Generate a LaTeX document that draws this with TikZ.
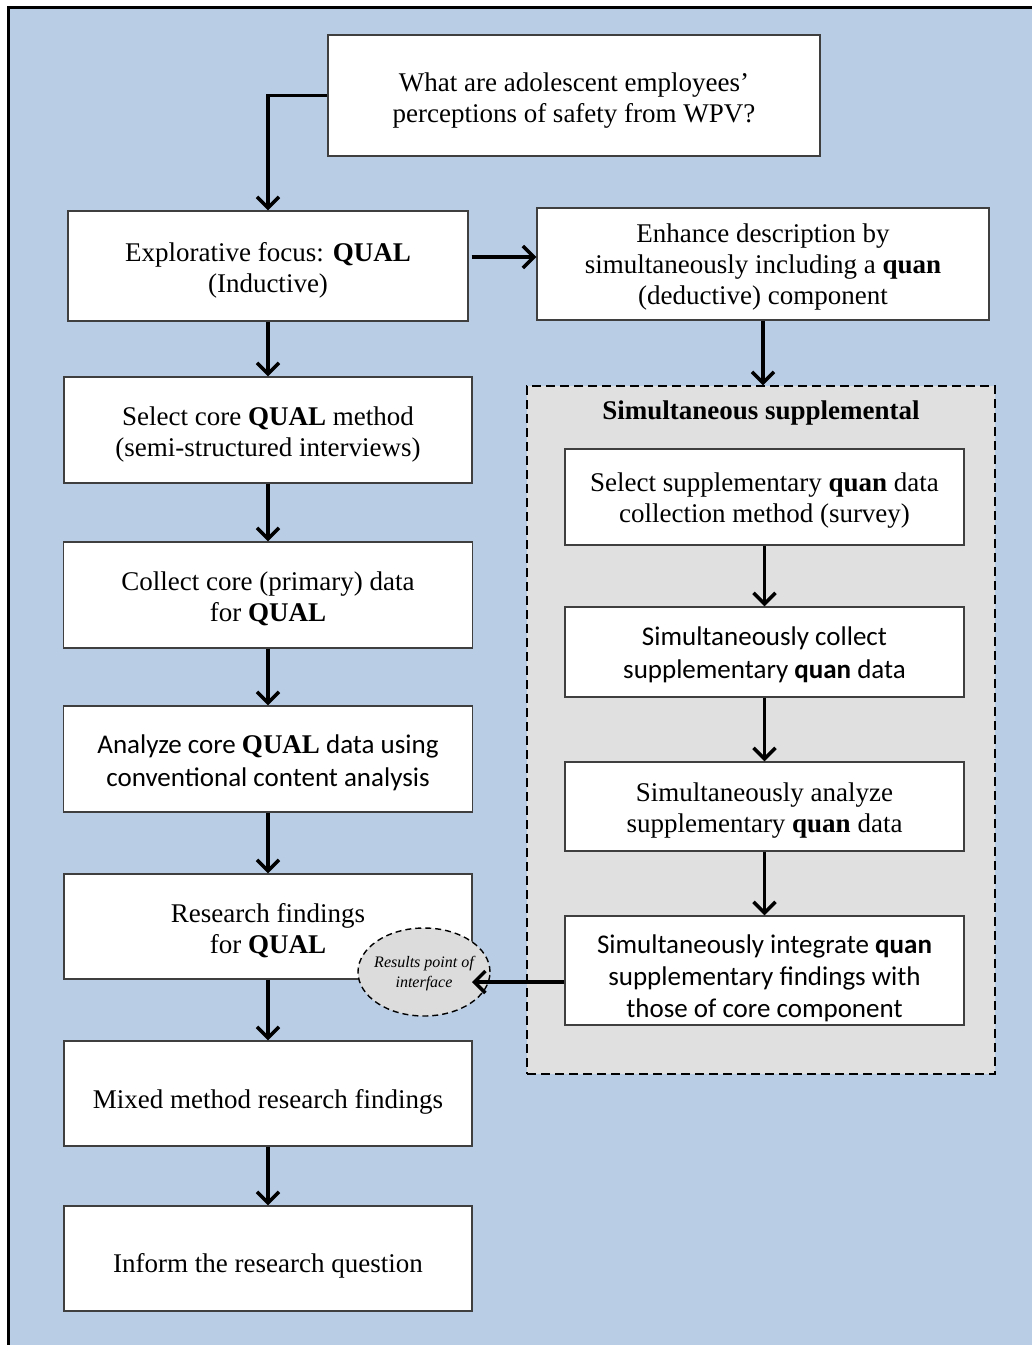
\documentclass[tikz,border=0pt]{standalone}
\usepackage{fontspec}
\setmainfont{Liberation Serif}
\newfontfamily\calfont{Carlito}
\usetikzlibrary{arrows.meta,shapes.geometric}
\definecolor{bluebg}{HTML}{B9CDE5}
\definecolor{greybox}{HTML}{E0E0E0}
\definecolor{ellgrey}{HTML}{DCDCDC}
\definecolor{boxline}{HTML}{3F3F3F}
\begin{document}
\begin{tikzpicture}[x=1pt,y=-1pt,
  box/.style={draw=boxline, fill=white, line width=1.2pt, inner sep=0pt},
  tx/.style={align=center, inner sep=0pt, font=\fontsize{27}{31}\selectfont},
  stx/.style={align=center, inner sep=0pt, font=\calfont\fontsize{27}{33}\selectfont},
  arr/.style={-{Straight Barb[length=11pt,width=22pt]}, line width=3.5pt},
]
\useasboundingbox (0,0) rectangle (1032,1345);
\fill[white] (0,0) rectangle (1032,1345);
\fill[bluebg] (8,7) rectangle (1032,1345);
\draw[line width=3.5pt] (8.5,1345) -- (8.5,7.5) -- (1032,7.5);

% dashed container
\node[draw=black, dashed, dash pattern=on 9pt off 5pt, line width=1.4pt, fill=greybox,
  minimum width=468pt, minimum height=688pt, inner sep=0pt] (sup) at (761,730) {};
\node[font=\bfseries\fontsize{27}{31}\selectfont, inner sep=0pt] (suptitle) at (761,413) {Simultaneous supplemental};

% boxes
\node[box, minimum width=492pt, minimum height=121pt] (q) at (574,95.5) {};
\node[box, minimum width=400pt, minimum height=110pt] (expl) at (268,266) {};
\node[box, minimum width=452pt, minimum height=112pt] (enh) at (763,264) {};
\node[box, minimum width=408pt, minimum height=106pt] (sel) at (268,430) {};
\node[box, minimum width=409pt, minimum height=106pt] (col) at (268,595) {};
\node[box, minimum width=409pt, minimum height=106pt] (ana) at (268,759) {};
\node[box, minimum width=408pt, minimum height=105pt] (res) at (268,926.5) {};
\node[box, minimum width=408pt, minimum height=105pt] (mix) at (268,1093.5) {};
\node[box, minimum width=408pt, minimum height=105pt] (inf) at (268,1258.5) {};
\node[box, minimum width=399pt, minimum height=96pt] (s1) at (764.5,497) {};
\node[box, minimum width=399pt, minimum height=90pt] (s2) at (764.5,652) {};
\node[box, minimum width=399pt, minimum height=89pt] (s3) at (764.5,806.5) {};
\node[box, minimum width=399pt, minimum height=109pt] (s4) at (764.5,970.5) {};

% texts
\node[tx] (qt) at ([yshift=-5pt]q.center) {What are adolescent employees'\\perceptions of safety from WPV?};
\node[tx] (explt) at ([yshift=-4pt]expl.center) {Explorative focus: \textbf{QUAL}\\(Inductive)};
\node[tx] (enht) at ([yshift=-3pt]enh.center) {Enhance description by\\simultaneously including a \textbf{quan}\\(deductive) component};
\node[tx] (selt) at ([yshift=-4pt]sel.center) {Select core \textbf{QUAL} method\\(semi-structured interviews)};
\node[tx] (colt) at ([yshift=-4pt]col.center) {Collect core (primary) data\\for \textbf{QUAL}};
\node[stx] (anat) at ([yshift=-4pt]ana.center) {Analyze core {\rmfamily\bfseries QUAL} data using\\conventional content analysis};
\node[tx] (rest) at ([yshift=-4pt]res.center) {Research findings\\for \textbf{QUAL}};
\node[tx] (mixt) at ([yshift=-8pt]mix.center) {Mixed method research findings};
\node[tx] (inft) at ([yshift=-7pt]inf.center) {Inform the research question};
\node[tx] (s1t) at ([yshift=-4pt]s1.center) {Select supplementary \textbf{quan} data\\collection method (survey)};
\node[stx] (s2t) at ([yshift=-3pt]s2.center) {Simultaneously collect\\supplementary \textbf{quan} data};
\node[tx] (s3t) at ([yshift=-4pt]s3.center) {Simultaneously analyze\\supplementary \textbf{quan} data};
\begin{scope}
\clip (s4.south west) rectangle (s4.north east);
\node[stx, font=\calfont\fontsize{27}{32}\selectfont] (s4t) at ([yshift=-8pt]s4.center)
  {Simultaneously integrate \textbf{quan}\\supplementary findings with\\those of core component};
\end{scope}
\draw[boxline, line width=1.2pt] (s4.south west) rectangle (s4.north east);

% ellipse
\node[ellipse, draw=black, dashed, dash pattern=on 6pt off 4pt, line width=1.4pt, fill=ellgrey,
  minimum width=132pt, minimum height=88pt, inner sep=0pt] (ell) at (424,972) {};
\node[align=center, inner sep=0pt, font=\itshape\fontsize{16}{20}\selectfont] (ellt)
  at ([yshift=-2pt]ell.center) {Results point of\\interface};
\coordinate (tipE) at (472,982);

% connectors
\draw[arr] (q.west) -| (expl.north);
\draw[arr] ([xshift=3pt,yshift=9pt]expl.east) -- ([yshift=9pt]expl.east -| enh.west);
\draw[arr] (enh.south) -- (enh.south |- sup.north);
\draw[arr] (expl.south) -- (sel.north);
\draw[arr] (sel.south) -- (col.north);
\draw[arr] (col.south) -- (ana.north);
\draw[arr] (ana.south) -- (res.north);
\draw[arr] (res.south) -- (mix.north);
\draw[arr] (mix.south) -- (inf.north);
\draw[arr] (s1.south) -- (s2.north);
\draw[arr] (s2.south) -- (s3.north);
\draw[arr] (s3.south) -- (s4.north);
\draw[arr] (s4.west |- tipE) -- (tipE);
\end{tikzpicture}
\end{document}
